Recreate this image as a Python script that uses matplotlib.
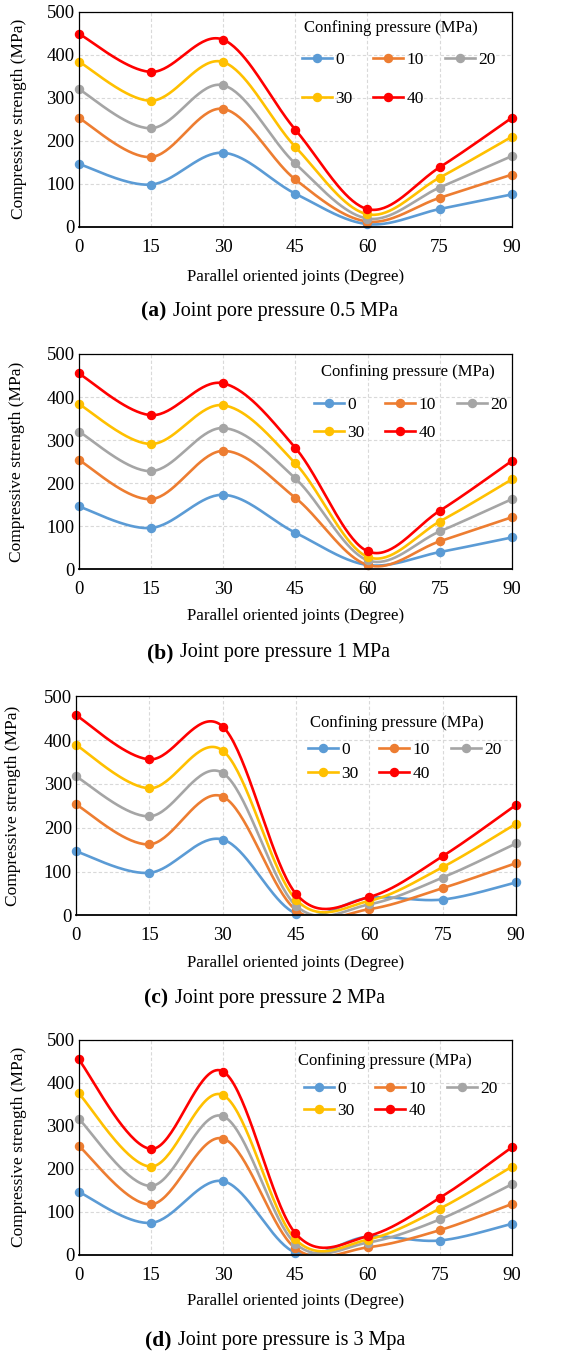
import numpy as np
import matplotlib
matplotlib.use("Agg")
import matplotlib.pyplot as plt

plt.rcParams['font.family'] = ['Liberation Serif', 'DejaVu Serif']

# Joint orientation angles (degrees)
angles = [0, 15, 30, 45, 60, 75, 90]
confining = ['0', '10', '20', '30', '40']
colors = ['#5B9BD5', '#ED7D31', '#A5A5A5', '#FFC000', '#FF0000']

# Compressive strength (MPa), one list per confining pressure
a_0 = [146, 98, 172, 77, 6, 41, 75]
a_10 = [253, 162, 274, 110, 12, 67, 121]
a_20 = [320, 229, 329, 147, 19, 91, 164]
a_30 = [384, 293, 383, 186, 29, 114, 209]
a_40 = [449, 360, 435, 226, 41, 138, 253]

b_0 = [146, 96, 173, 85, 10, 40, 74]
b_10 = [254, 163, 275, 166, 10, 65, 121]
b_20 = [320, 228, 328, 211, 21, 88, 163]
b_30 = [384, 291, 381, 246, 29, 111, 209]
b_40 = [455, 358, 432, 282, 42, 136, 252]

c_0 = [146, 97, 173, 4, 40, 36, 75]
c_10 = [253, 162, 271, 12, 14, 62, 119]
c_20 = [317, 226, 325, 22, 25, 86, 164]
c_30 = [389, 290, 376, 36, 33, 110, 209]
c_40 = [457, 356, 431, 49, 42, 135, 252]

d_0 = [146, 74, 171, 5, 42, 33, 72]
d_10 = [253, 117, 270, 15, 17, 57, 118]
d_20 = [316, 160, 322, 26, 28, 82, 164]
d_30 = [375, 205, 371, 36, 35, 107, 205]
d_40 = [454, 246, 426, 50, 43, 132, 250]

panels = [
    ('(a)', 'Joint pore pressure 0.5 MPa', [a_0, a_10, a_20, a_30, a_40]),
    ('(b)', 'Joint pore pressure 1 MPa', [b_0, b_10, b_20, b_30, b_40]),
    ('(c)', 'Joint pore pressure 2 MPa', [c_0, c_10, c_20, c_30, c_40]),
    ('(d)', 'Joint pore pressure is 3 Mpa', [d_0, d_10, d_20, d_30, d_40]),
]


def smooth(x, y, n=40):
    """Catmull-Rom style cubic Bezier through the points (spreadsheet smoothed line)."""
    p = np.column_stack([x, y]).astype(float)
    ext = np.vstack([p[0], p, p[-1]])
    t = np.linspace(0, 1, n)[:, None]
    segs = []
    for i in range(len(p) - 1):
        p0, p1 = ext[i + 1], ext[i + 2]
        c1 = p0 + (ext[i + 2] - ext[i]) / 6.0
        c2 = p1 - (ext[i + 3] - ext[i + 1]) / 6.0
        b = ((1 - t) ** 3) * p0 + 3 * ((1 - t) ** 2) * t * c1 + 3 * (1 - t) * t ** 2 * c2 + t ** 3 * p1
        segs.append(b if i == 0 else b[1:])
    s = np.vstack(segs)
    return s[:, 0], s[:, 1]


W, H = 562, 1353
fig = plt.figure(figsize=(W / 100, H / 100), dpi=100)


def fx(px):
    return px / W


def fy(py):
    return 1 - py / H


# axes boxes in pixels: left, top, right, bottom
boxes = [(78.7, 11.7, 511.7, 226.7),
         (78.7, 354.0, 512.0, 569.3),
         (76.0, 696.3, 516.0, 915.3),
         (78.7, 1039.7, 512.0, 1254.7)]
# legend: title (left x, centre y), first row (left x, centre y), row spacing
leg_title = [(304, 28), (321, 372), (310, 723), (298, 1061)]
leg_row = [(302, 58), (314, 403), (308, 748), (304, 1087)]
leg_spacing = [1.30, 0.70, 0.47, 0.32]
xlab_y = [276.7, 616, 962.7, 1301]
ylab_x = [19, 17, 13.3, 19.3]
caps = [(166, 173, 311.7), (174, 180, 653), (168, 175, 998), (172, 178, 1340)]

# legend entries laid out row by row (0, 10, 20 / 30, 40)
leg_order = [0, 3, 1, 4, 2]

for k, (tag, title, series) in enumerate(panels):
    l, t, r, b = boxes[k]
    ax = fig.add_axes([fx(l), fy(b), (r - l) / W, (b - t) / H])
    handles = []
    for vals, lab, col in zip(series, confining, colors):
        xs, ys = smooth(angles, vals)
        line, = ax.plot(xs, ys, color=col, lw=1.9, solid_capstyle='round')
        ax.plot(angles, vals, 'o', color=col, ms=5.8, clip_on=False, zorder=line.get_zorder())
        h, = ax.plot([], [], '-o', color=col, lw=1.9, ms=5.8, label=lab)
        handles.append(h)
    ax.set_xlim(0, 90)
    ax.set_ylim(0, 500)
    ax.set_xticks(angles)
    ax.set_yticks(range(0, 501, 100))
    ax.grid(True, color='#D9D9D9', ls=(0, (3, 2)), lw=0.8)
    ax.set_axisbelow(True)
    ax.tick_params(length=0, labelsize=13.5)
    ax.tick_params(axis='x', pad=8.5)
    ax.tick_params(axis='y', pad=3)
    for sp in ax.spines.values():
        sp.set_linewidth(0.9)
        sp.set_color('black')
    ax.spines['bottom'].set_linewidth(1.3)

    ax.set_ylabel('Compressive strength (MPa)', fontsize=12.5)
    ax.yaxis.label.set_va('center')
    ax.yaxis.set_label_coords((ylab_x[k] - l) / (r - l), (b - (t + b) / 2) / (b - t))
    ax.set_xlabel('Parallel oriented joints (Degree)', fontsize=12.2)
    ax.xaxis.label.set_va('center')
    ax.xaxis.set_label_coords(0.5, (b - xlab_y[k]) / (b - t))

    tx, ty = leg_title[k]
    fig.text(fx(tx), fy(ty), 'Confining pressure (MPa)', ha='left', va='center', fontsize=12)
    rx0, ry0 = leg_row[k]
    ax.legend([handles[i] for i in leg_order], [confining[i] for i in leg_order],
              ncol=3, frameon=False, fontsize=12.5,
              handlelength=1.72, handletextpad=0.2, columnspacing=1.2,
              labelspacing=leg_spacing[k], borderpad=0, borderaxespad=0,
              loc='upper left', bbox_to_anchor=(fx(rx0), fy(ry0 - 6)),
              bbox_transform=fig.transFigure)

    bx, tx2, cy = caps[k]
    fig.text(fx(bx), fy(cy), tag, ha='right', va='center', fontsize=15.5, fontweight='bold')
    fig.text(fx(tx2), fy(cy), title, ha='left', va='center', fontsize=14.5)

fig.savefig('out.png', dpi=100)
